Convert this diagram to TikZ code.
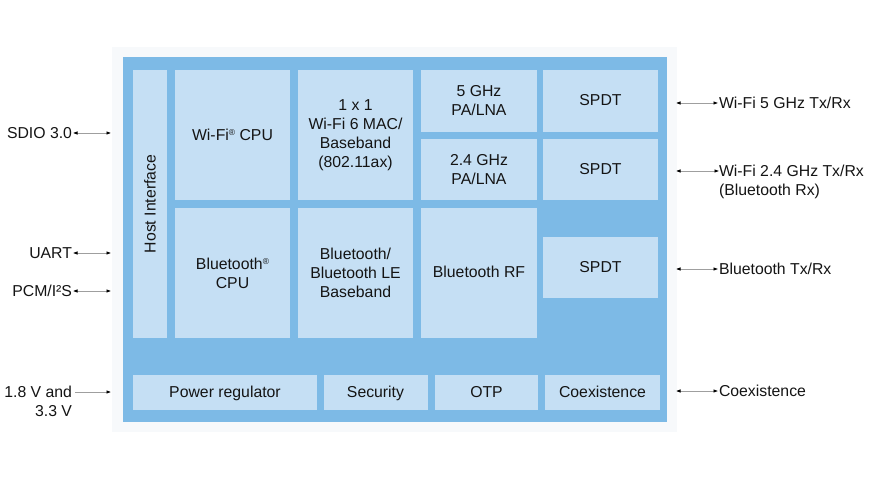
\documentclass[tikz,border=0pt]{standalone}
\usepackage{fontspec}
\setmainfont{Liberation Sans}
\usetikzlibrary{arrows.meta}
\definecolor{frameBg}{RGB}{247,249,251}
\definecolor{chipBlue}{RGB}{125,186,230}
\definecolor{blkBlue}{RGB}{197,223,244}
\definecolor{txt}{RGB}{20,20,20}
\newcommand{\regmark}{\raisebox{0.55ex}{\fontsize{8.5}{8.5}\selectfont ®}}
\begin{document}
\begin{tikzpicture}[x=1pt,y=-1pt,
  every node/.style={font=\fontsize{15.8}{19}\selectfont, text=txt},
  blk/.style={fill=blkBlue, draw=none, inner sep=0pt, outer sep=0pt, align=center},
  one/.style={text height=11.5pt, text depth=2pt},
  lbl/.style={inner sep=1pt, outer sep=0pt},
  bidir/.style={draw=gray!75, line width=0.6pt, {Latex[length=4.5pt,width=3.5pt,black]}-{Latex[length=4.5pt,width=3.5pt,black]}},
  unidir/.style={draw=gray!75, line width=0.6pt, -{Latex[length=4.5pt,width=3.5pt,black]}}]
\useasboundingbox (0,0) rectangle (870,489);
\fill[white] (0,0) rectangle (870,489);
% frame and chip
\fill[frameBg] (112,47) rectangle (677,432);
\fill[chipBlue] (123,57) rectangle (667,422);
% blocks
\node[blk, minimum width=34pt, minimum height=268pt] (host) at (150,204) {};
\node[rotate=90, inner sep=0pt] (hostt) at (host.center) {Host Interface};
\node[blk, one, minimum width=115pt, minimum height=130pt] (wcpu) at (232.5,135.5) {Wi-Fi\regmark\ CPU};
\node[blk, minimum width=115pt, minimum height=130pt] (mac) at (355.5,135) {1 x 1\\Wi-Fi 6 MAC/\\Baseband\\(802.11ax)};
\node[blk, minimum width=116pt, minimum height=62pt] (pa5) at (479,101) {5 GHz\\PA/LNA};
\node[blk, minimum width=116pt, minimum height=61pt] (pa24) at (479,169.5) {2.4 GHz\\PA/LNA};
\node[blk, one, minimum width=115pt, minimum height=62pt] (sp1) at (600.5,101) {SPDT};
\node[blk, one, minimum width=115pt, minimum height=61pt] (sp2) at (600.5,169.5) {SPDT};
\node[blk, minimum width=115pt, minimum height=130pt] (bcpu) at (232.5,273) {Bluetooth\regmark\\CPU};
\node[blk, minimum width=115pt, minimum height=130pt] (bbb) at (355.5,273) {Bluetooth/\\Bluetooth LE\\Baseband};
\node[blk, one, minimum width=116pt, minimum height=130pt] (brf) at (479,273) {Bluetooth RF};
\node[blk, one, minimum width=115pt, minimum height=61pt] (sp3) at (600.5,267.5) {SPDT};
\node[blk, one, minimum width=184pt, minimum height=35pt] (pwr) at (225,392.5) {Power regulator};
\node[blk, one, minimum width=104pt, minimum height=35pt] (sec) at (375.5,392.5) {Security};
\node[blk, one, minimum width=103pt, minimum height=35pt] (otp) at (486.5,392.5) {OTP};
\node[blk, one, minimum width=115pt, minimum height=35pt] (coex) at (602.5,392.5) {Coexistence};
% left labels
\node[lbl, anchor=east] (sdio) at (73,133) {SDIO 3.0};
\node[lbl, anchor=east] (uart) at (73,253) {UART};
\node[lbl, anchor=east] (pcm) at (73,291) {PCM/I²S};
\node[lbl, anchor=north east, align=right] (pwl) at (73,385) {1.8 V and\\3.3 V};
\coordinate (sdioE) at (111,133);
\coordinate (uartE) at (111,253);
\coordinate (pcmE) at (111,291);
\coordinate (pwS) at (75,392);
\coordinate (pwE) at (111,392);
\draw[bidir] (sdio.east) -- (sdioE);
\draw[bidir] (uart.east) -- (uartE);
\draw[bidir] (pcm.east) -- (pcmE);
\draw[unidir] (pwS) -- (pwE);
% right labels
\node[lbl, anchor=west] (r5) at (718,103) {Wi-Fi 5 GHz Tx/Rx};
\node[lbl, anchor=north west, align=left] (r24) at (718,164) {Wi-Fi 2.4 GHz Tx/Rx\\(Bluetooth Rx)};
\node[lbl, anchor=west] (rbt) at (718,269) {Bluetooth Tx/Rx};
\node[lbl, anchor=west] (rcx) at (718,391) {Coexistence};
\coordinate (r5S) at (676,103);
\coordinate (r24S) at (676,171);
\coordinate (r24E) at (719,171);
\coordinate (rbtS) at (676,269);
\coordinate (rcxS) at (676,391);
\draw[bidir] (r5S) -- (r5.west);
\draw[bidir] (r24S) -- (r24E);
\draw[bidir] (rbtS) -- (rbt.west);
\draw[bidir] (rcxS) -- (rcx.west);
\end{tikzpicture}
\end{document}
